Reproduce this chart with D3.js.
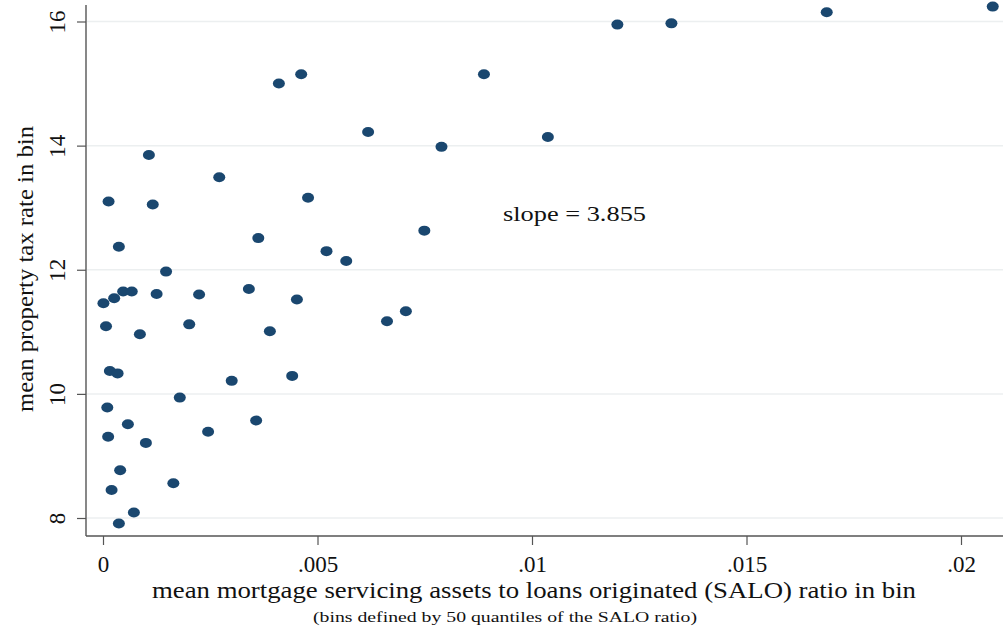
<!DOCTYPE html>
<html>
<head>
<meta charset="utf-8">
<script src="https://cdn.jsdelivr.net/npm/d3@7"></script>
<style>
  html, body { margin: 0; padding: 0; background: #ffffff; }
  svg { display: block; }
  text { font-family: "Liberation Serif", "Times New Roman", serif; fill: #111; }
</style>
</head>
<body>
<div id="chart"></div>
<script>
// ---- data ----
const salo = [
  0.02074, 0.01687, 0.01325, 0.01199, 0.00888, 0.00462, 0.00410, 0.00618, 0.01037, 0.00789,
  0.00107, 0.00271, 0.00013, 0.00116, 0.00478, 0.00749, 0.00362, 0.00037, 0.00521, 0.00567,
  0.00147, 0.00001, 0.00026, 0.00047, 0.00067, 0.00125, 0.00224, 0.00340, 0.00452, 0.00007,
  0.00086, 0.00201, 0.00389, 0.00662, 0.00706, 0.00016, 0.00034, 0.00300, 0.00441, 0.00010,
  0.00179, 0.00012, 0.00058, 0.00100, 0.00245, 0.00357, 0.00040, 0.00020, 0.00164, 0.00072,
  0.00037
];
const taxRate = [
  16.24, 16.15, 15.97, 15.95, 15.15, 15.15, 15.00, 14.22, 14.14, 13.98,
  13.85, 13.49, 13.10, 13.05, 13.16, 12.63, 12.51, 12.37, 12.30, 12.14,
  11.97, 11.46, 11.54, 11.65, 11.65, 11.61, 11.60, 11.69, 11.52, 11.09,
  10.96, 11.12, 11.01, 11.17, 11.33, 10.37, 10.33, 10.21, 10.29, 9.78,
  9.94, 9.31, 9.51, 9.21, 9.39, 9.57, 8.77, 8.45, 8.56, 8.09,
  7.91
];
const xTicks = [0, 0.005, 0.01, 0.015, 0.02];
const xTickLabels = ["0", ".005", ".01", ".015", ".02"];
const yTicks = [8, 10, 12, 14, 16];
const xTitle = "mean mortgage servicing assets to loans originated (SALO) ratio in bin";
const xSubtitle = "(bins defined by 50 quantiles of the SALO ratio)";
const yTitle = "mean property tax rate in bin";
const annotation = "slope = 3.855";

// ---- layout ----
const W = 1003, H = 633;
const axisX = 86, axisY = 536;

const svg = d3.select("#chart").append("svg").attr("width", W).attr("height", H);

const x = d3.scaleLinear().domain([0, 0.02]).range([103, 961]);
const y = d3.scaleLinear().domain([8, 16]).range([518, 21.5]);

// gridlines
svg.append("g").selectAll("line").data(yTicks).join("line")
  .attr("x1", axisX + 1).attr("x2", W)
  .attr("y1", d => y(d)).attr("y2", d => y(d))
  .attr("stroke", "#eceff0").attr("stroke-width", 1.5);

// y axis
const yAxis = d3.axisLeft(y).tickValues(yTicks).tickSize(9).tickSizeOuter(0).tickFormat(d3.format("d"));
const gy = svg.append("g").attr("transform", `translate(${axisX},0)`).call(yAxis);
gy.select(".domain").remove();
gy.selectAll(".tick line").attr("stroke", "#555").attr("stroke-width", 1.2);
gy.selectAll(".tick text")
  .attr("x", 0).attr("dy", null)
  .attr("transform", "translate(-29,0) rotate(-90)")
  .attr("text-anchor", "middle")
  .attr("dominant-baseline", "central")
  .style("font-size", "23px")
  .style("font-family", "'Liberation Serif', serif")
  .attr("fill", "#111");
svg.append("line").attr("x1", axisX).attr("x2", axisX).attr("y1", 5).attr("y2", axisY)
  .attr("stroke", "#555").attr("stroke-width", 1.4);

// x axis
const xAxis = d3.axisBottom(x).tickValues(xTicks).tickSize(9).tickSizeOuter(0)
  .tickFormat((d, i) => xTickLabels[i]);
const gx = svg.append("g").attr("transform", `translate(0,${axisY})`).call(xAxis);
gx.select(".domain").remove();
gx.selectAll(".tick line").attr("stroke", "#555").attr("stroke-width", 1.2);
gx.selectAll(".tick text")
  .attr("y", 28).attr("dy", null)
  .attr("dominant-baseline", "central")
  .style("font-size", "23px")
  .style("font-family", "'Liberation Serif', serif")
  .attr("fill", "#111");
svg.append("line").attr("x1", axisX).attr("x2", W).attr("y1", axisY).attr("y2", axisY)
  .attr("stroke", "#555").attr("stroke-width", 1.4);

// points
svg.append("g").selectAll("ellipse").data(salo.map((d, i) => [d, taxRate[i]])).join("ellipse")
  .attr("cx", d => x(d[0])).attr("cy", d => y(d[1]))
  .attr("rx", 6).attr("ry", 5)
  .attr("fill", "#1a476f");

// annotation
svg.append("text").attr("x", 503).attr("y", 213)
  .attr("dominant-baseline", "central")
  .attr("textLength", 143).attr("lengthAdjust", "spacingAndGlyphs")
  .style("font-size", "22px").text(annotation);

// titles
svg.append("text").attr("x", 534).attr("y", 590)
  .attr("text-anchor", "middle").attr("dominant-baseline", "central")
  .attr("textLength", 764).attr("lengthAdjust", "spacingAndGlyphs")
  .style("font-size", "24px").text(xTitle);
svg.append("text").attr("x", 505).attr("y", 617)
  .attr("text-anchor", "middle").attr("dominant-baseline", "central")
  .attr("textLength", 384).attr("lengthAdjust", "spacingAndGlyphs")
  .style("font-size", "15px").text(xSubtitle);
svg.append("text")
  .attr("transform", "translate(25,269) rotate(-90)")
  .attr("text-anchor", "middle").attr("dominant-baseline", "central")
  .attr("textLength", 286).attr("lengthAdjust", "spacingAndGlyphs")
  .style("font-size", "23px").text(yTitle);
</script>
</body>
</html>
